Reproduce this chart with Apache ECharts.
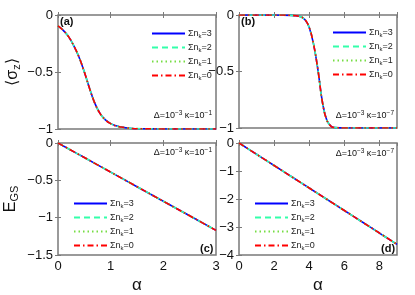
<!DOCTYPE html>
<html><head><meta charset="utf-8">
<script src="https://cdn.jsdelivr.net/npm/echarts@6/dist/echarts.min.js"></script>
<style>html,body{margin:0;padding:0;background:#fff}#c{width:415px;height:295px}</style>
</head><body><div id="c"></div>
<script>
// ---- data ----
var alphaA = [0,0.1,0.2,0.3,0.4,0.5,0.6,0.7,0.8,0.9,1.0,1.1,1.2,1.3,1.4,1.6,1.8,2.0,2.5,3.0];
var sigmaA = [-0.096,-0.135,-0.19,-0.27,-0.37,-0.50,-0.645,-0.775,-0.865,-0.92,-0.953,-0.972,-0.983,-0.99,-0.995,-0.998,-0.999,-1,-1,-1];
var alphaB = [0,1,2,3,3.25,3.5,3.75,4.0,4.25,4.5,4.75,5.0,5.25,5.5,6,7,8,9];
var sigmaB = [0,0,0,-0.003,-0.007,-0.015,-0.04,-0.11,-0.26,-0.49,-0.77,-0.93,-0.985,-0.997,-1,-1,-1,-1];
var alphaC = [0,0.5,1,1.5,2,2.5,3];
var egsC = [0,-0.195,-0.39,-0.585,-0.78,-0.975,-1.17];
var alphaD = [0,1,2,3,4,5,6,7,8,9];
var egsD = [0,-0.402,-0.804,-1.206,-1.608,-2.01,-2.412,-2.814,-3.216,-3.62];
var seriesNames = ['Σnk=3','Σnk=2','Σnk=1','Σnk=0'];
var seriesColors = ['#0000ff','#33ffaa','#77dd44','#ff0000'];
var seriesDash = ['solid',[6,4],[1.5,3],[6,3,1.5,3]];
var yTicksA = {min:-1,max:0,interval:0.5};
var yTicksC = {min:-1.5,max:0,interval:0.5};
var yTicksD = {min:-4,max:0,interval:1};
var xTicksA = {min:0,max:3,interval:1};
var xTicksB = {min:0,max:9,interval:2};

function pairs(xs, ys){ return xs.map(function(x,i){return [x, ys[i]];}); }
var panels = [
  {x:xTicksA, y:yTicksA, data:pairs(alphaA,sigmaA), grid:{left:58,top:15,width:158,height:114}, xl:false},
  {x:xTicksB, y:yTicksA, data:pairs(alphaB,sigmaB), grid:{left:239,top:15,width:158,height:113}, xl:false},
  {x:xTicksA, y:yTicksC, data:pairs(alphaC,egsC), grid:{left:58,top:143,width:158,height:113}, xl:true},
  {x:xTicksB, y:yTicksD, data:pairs(alphaD,egsD), grid:{left:239,top:143,width:158,height:113}, xl:true}
];
var gray = '#7a7a7a';
var fontFam = 'Liberation Sans, Arial, sans-serif';
function minusFmt(v){ return String(v).replace('-', '−'); }

var grids=[], xAxes=[], yAxes=[], series=[];
panels.forEach(function(p,i){
  grids.push(Object.assign({show:true,borderColor:gray,borderWidth:1.5,containLabel:false}, p.grid));
  xAxes.push({type:'value',gridIndex:i,min:p.x.min,max:p.x.max,interval:p.x.interval,
    axisLine:{show:false},splitLine:{show:false},
    axisTick:{inside:true,length:3,lineStyle:{color:gray}},
    axisLabel:{show:p.xl,showMaxLabel:(p.x.max%p.x.interval===0),color:'#111',fontSize:13,fontFamily:fontFam,margin:5},
    name:p.xl?'α':'',nameLocation:'middle',nameGap:22,nameTextStyle:{fontSize:17,color:'#111',fontFamily:fontFam}});
  yAxes.push({type:'value',gridIndex:i,min:p.y.min,max:p.y.max,interval:p.y.interval,
    axisLine:{show:false},splitLine:{show:false},
    axisTick:{inside:true,length:3,lineStyle:{color:gray}},
    axisLabel:{color:'#111',fontSize:13,fontFamily:fontFam,margin:5,formatter:minusFmt},
    name: i===0 ? '⟨σ{s|z}⟩' : (i===2 ? 'E{s|GS}' : ''),
    nameLocation:'middle',nameGap:i===0?36:38,
    nameTextStyle:{fontSize:16,color:'#111',fontFamily:fontFam,
      rich:{s:{fontSize:11,padding:[8,0,0,0],color:'#111',fontFamily:fontFam}}}});
});
panels.forEach(function(p,i){
  xAxes.push({type:'value',gridIndex:i,position:'top',min:p.x.min,max:p.x.max,interval:p.x.interval,
    axisLine:{show:false},splitLine:{show:false},axisLabel:{show:false},
    axisTick:{inside:true,length:3,lineStyle:{color:gray}}});
  yAxes.push({type:'value',gridIndex:i,position:'right',min:p.y.min,max:p.y.max,interval:p.y.interval,
    axisLine:{show:false},splitLine:{show:false},axisLabel:{show:false},
    axisTick:{inside:true,length:3,lineStyle:{color:gray}}});
});
panels.forEach(function(p,i){
  seriesNames.forEach(function(n,k){
    series.push({type:'line',name:n,xAxisIndex:i,yAxisIndex:i,data:p.data,smooth:0.4,
      symbol:'none',z:2+k,
      lineStyle:{color:seriesColors[k],width:1.6,type:seriesDash[k]},
      itemStyle:{color:seriesColors[k]}});
  });
});
var legendPos = [{left:146,top:24},{left:327,top:23},{left:68,top:194},{left:249,top:194}];
var legends = legendPos.map(function(pos){
  return Object.assign({orient:'vertical',data:seriesNames,itemWidth:33,itemHeight:10,itemGap:3.5,
    selectedMode:false,itemStyle:{opacity:0},
    formatter:function(n){ return n.replace('nk','n{k|k}'); },
    textStyle:{fontSize:9,color:'#222',fontFamily:fontFam,padding:[0,0,0,-2],
      rich:{k:{fontSize:6,padding:[6,0,0,0],color:'#222',fontFamily:fontFam}}}}, pos);
});
function note(txt, x, y){
  return {type:'text',x:x,y:y,style:{text:txt,align:'right',verticalAlign:'middle',
    font:'9px '+fontFam,fill:'#111',
    rich:{u:{fontSize:6.5,padding:[0,0,6,0],fill:'#111',fontFamily:fontFam}}}};
}
function lab(txt,x,y){
  return {type:'text',x:x,y:y,style:{text:txt,verticalAlign:'middle',font:'bold 11px '+fontFam,fill:'#111'}};
}
var chart = echarts.init(document.getElementById('c'), null, {renderer:'canvas'});
chart.setOption({
  animation:false,
  grid:grids, xAxis:xAxes, yAxis:yAxes, series:series, legend:legends,
  graphic:[
    note('Δ=10{u|−3} κ=10{u|−1}',212,116),
    note('Δ=10{u|−3} κ=10{u|−7}',394,116),
    note('Δ=10{u|−3} κ=10{u|−1}',212,153),
    note('Δ=10{u|−3} κ=10{u|−7}',394,154),
    lab('(a)',60,22), lab('(b)',241,22), lab('(c)',200,249), lab('(d)',381,249)
  ]
});
</script></body></html>
